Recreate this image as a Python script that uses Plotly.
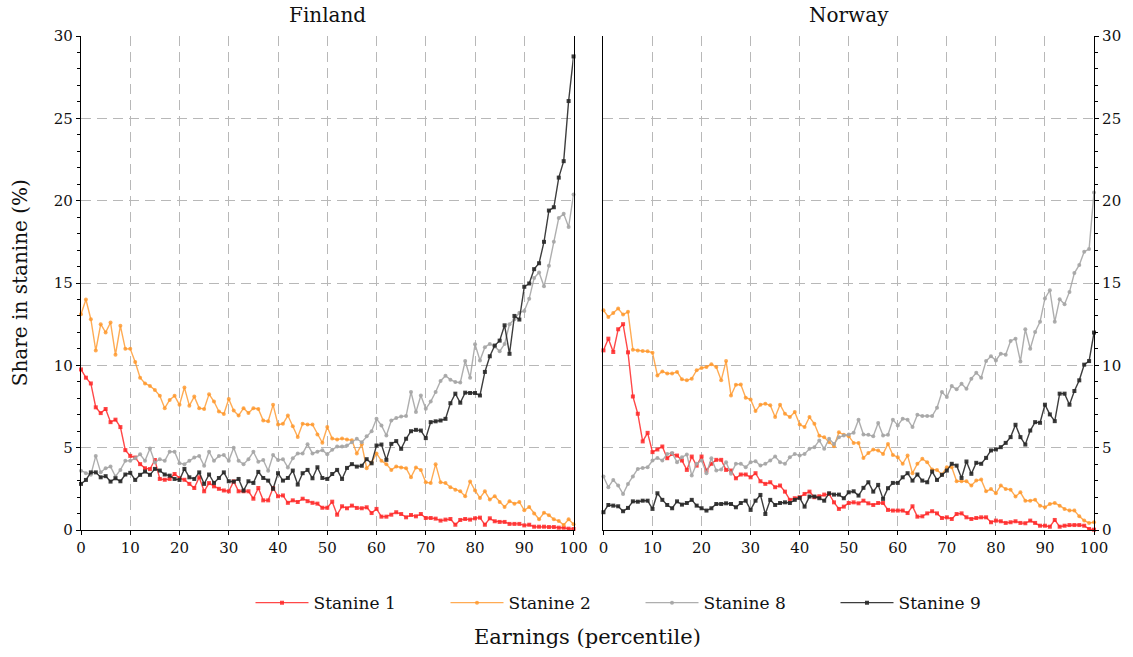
import plotly.graph_objects as go

percentile = list(range(0, 101))

fin_s1 = [9.75,9.25,8.9,7.45,7.1,7.35,6.55,6.7,6.25,4.85,
4.5,4.4,4.0,3.75,3.7,4.25,3.1,3.05,3.1,3.4,
3.15,3.05,2.8,2.55,3.2,2.35,2.85,2.65,2.5,2.4,
2.35,2.95,2.35,2.35,2.35,1.9,2.55,1.8,1.8,2.55,
2.05,2.1,1.65,1.8,1.7,1.9,1.75,1.65,1.6,1.35,
1.35,1.72,0.93,1.44,1.32,1.48,1.34,1.32,1.38,1.03,
1.28,0.81,0.81,0.93,1.08,0.97,0.77,0.91,0.83,0.97,
0.73,0.73,0.69,0.57,0.63,0.67,0.32,0.61,0.67,0.63,
0.71,0.75,0.32,0.71,0.53,0.49,0.49,0.37,0.37,0.37,
0.28,0.32,0.2,0.2,0.2,0.18,0.18,0.14,0.14,0.08,0.06]

fin_s2 = [13.1,14.0,12.8,10.9,12.5,12.0,12.6,10.65,12.4,11.0,
11.0,10.2,9.25,8.9,8.75,8.5,8.15,7.4,7.9,8.15,
7.6,8.65,7.55,8.1,7.4,7.35,8.25,7.8,7.2,7.05,
7.95,7.25,6.95,7.4,7.1,7.4,7.35,6.65,6.6,7.6,
6.4,6.45,6.95,6.3,5.65,6.45,6.4,6.4,5.8,5.3,
6.25,5.55,5.5,5.55,5.5,5.45,4.65,5.2,3.75,4.1,
4.65,4.2,4.0,3.65,3.85,3.8,3.75,3.2,3.8,3.65,
2.9,2.85,4.0,2.9,2.85,2.6,2.45,2.35,2.05,2.95,
2.4,1.95,2.35,1.85,2.05,1.7,1.4,1.75,1.6,1.7,
1.2,1.4,1.0,0.65,1.05,0.9,0.65,0.55,0.3,0.65,0.35]

fin_s8 = [3.6,3.45,3.35,4.5,3.5,3.75,3.85,3.25,3.65,4.2,
4.2,4.35,4.6,4.2,4.95,4.1,4.3,4.2,4.75,4.75,
4.05,4.0,4.2,4.4,4.5,3.9,4.75,4.2,4.5,4.55,
4.2,5.0,4.2,4.0,4.3,4.75,4.15,4.25,3.6,4.55,
4.25,4.3,3.8,4.35,4.65,4.65,5.2,4.65,4.75,4.85,
4.6,4.87,5.07,5.07,5.13,5.33,5.54,5.33,5.7,6.0,
6.75,6.35,5.74,6.65,6.8,6.9,6.92,8.38,7.16,8.17,
7.36,7.8,8.38,9.05,9.37,9.13,8.99,8.95,10.26,9.25,
11.28,10.3,11.1,11.3,11.15,10.85,11.3,12.5,12.8,13.2,
13.3,14.05,15.3,15.64,14.8,16.04,17.5,18.95,19.2,18.4,20.37]

fin_s9 = [2.8,3.04,3.5,3.5,3.2,3.27,2.94,3.14,2.96,3.37,
3.47,3.04,3.35,3.55,3.35,3.71,3.61,3.37,3.3,3.1,
3.04,3.71,3.2,3.1,3.5,2.8,3.37,2.86,3.16,3.5,
2.96,2.94,3.1,2.39,2.96,2.86,3.53,3.16,3.0,2.5,
3.45,3.0,3.16,3.61,2.76,3.45,3.65,3.14,3.81,3.16,
3.1,3.4,3.65,3.1,3.77,4.0,3.85,3.9,4.3,4.05,
5.13,5.19,4.26,5.23,5.4,4.93,5.54,6.0,6.08,6.04,
5.58,6.55,6.6,6.65,6.75,7.7,8.28,7.73,8.34,8.32,
8.32,8.17,9.6,10.55,11.2,11.5,12.43,10.7,13.0,12.78,
14.77,14.97,15.84,16.2,17.5,19.4,19.6,21.4,22.4,26.05,28.76]

nor_s1 = [10.91,11.62,10.81,12.19,12.5,10.79,8.11,7.06,5.38,5.9,
4.73,4.89,5.07,4.36,4.62,4.52,4.22,3.65,4.46,3.91,
4.46,3.61,4.02,4.26,4.26,3.65,3.61,3.14,3.37,3.37,
3.2,3.45,2.96,2.8,2.9,2.6,2.7,2.33,1.83,1.93,
1.99,2.19,2.33,1.99,2.05,2.15,2.19,1.68,1.28,1.42,
1.64,1.68,1.62,1.78,1.62,1.52,1.64,1.64,1.22,1.18,
1.18,1.18,1.03,1.44,0.81,0.83,1.01,1.14,1.01,0.73,
0.77,0.67,0.97,1.01,0.77,0.67,0.73,0.77,0.77,0.47,
0.57,0.53,0.43,0.47,0.53,0.43,0.41,0.57,0.43,0.26,
0.26,0.2,0.61,0.2,0.26,0.3,0.3,0.3,0.26,0.06,0.02]

nor_s2 = [13.35,12.94,13.18,13.45,13.08,13.25,10.95,10.9,10.87,10.85,
10.77,9.39,9.63,9.5,9.5,9.6,9.15,9.09,9.19,9.7,
9.84,9.9,10.06,9.9,9.09,10.26,8.17,8.82,8.84,8.03,
7.93,7.22,7.61,7.67,7.57,6.86,7.61,7.06,6.86,7.16,
6.41,6.25,6.86,6.45,5.72,5.64,5.33,5.09,5.94,5.78,
5.7,5.29,5.29,4.38,4.67,4.89,4.83,4.62,5.23,4.56,
4.42,4.02,4.52,3.45,4.02,4.32,4.12,3.67,3.65,3.37,
3.81,3.81,2.96,2.96,2.96,2.7,3.0,3.06,2.35,2.49,
2.23,2.7,2.49,2.45,2.03,2.29,1.78,1.78,1.83,1.48,
1.38,1.58,1.64,1.48,1.28,1.18,1.18,0.83,0.57,0.43,0.47]

nor_s8 = [3.25,2.6,3.04,2.7,2.19,2.8,3.25,3.71,3.77,3.81,
4.22,4.38,4.22,4.62,4.67,4.12,4.42,4.58,3.31,4.02,
4.22,3.45,4.36,3.61,3.67,4.12,3.41,4.02,4.02,3.81,
4.12,4.18,3.91,4.02,4.22,4.46,4.12,4.02,4.42,4.62,
4.52,4.62,4.93,5.03,5.44,4.93,5.54,5.23,5.64,5.74,
5.8,5.9,6.7,5.8,5.78,5.7,6.5,5.74,5.78,6.7,
6.35,6.75,6.7,6.25,7.0,6.92,6.92,6.92,7.42,8.38,
8.07,8.74,8.54,8.88,8.58,9.19,9.55,9.25,10.26,10.55,
10.3,10.71,10.65,11.48,11.62,10.24,12.19,11.01,12.03,12.64,
14.06,14.56,12.64,14.02,13.71,14.46,15.6,16.1,16.9,17.06,20.5]

nor_s9 = [1.08,1.52,1.48,1.44,1.14,1.34,1.74,1.72,1.78,1.78,
1.28,2.23,1.83,1.52,1.32,1.74,1.54,1.64,1.83,1.48,
1.32,1.18,1.32,1.58,1.58,1.62,1.58,1.38,1.64,1.78,
1.22,1.78,2.13,0.97,1.83,1.52,1.64,1.68,1.64,1.83,
1.95,1.42,2.03,2.03,1.93,1.78,2.23,2.15,2.15,1.93,
2.29,2.35,2.09,2.56,2.9,2.33,2.74,1.89,2.54,2.86,
2.86,3.2,3.45,3.0,3.37,3.0,2.9,3.55,3.04,3.35,
3.61,4.02,3.91,3.16,4.16,3.41,4.08,4.02,4.38,4.83,
4.89,5.03,5.29,5.64,6.39,5.64,5.19,6.04,6.55,6.51,
7.61,7.02,6.61,8.28,8.28,7.61,8.44,9.09,10.04,10.26,11.99]

series_names = ["Stanine 1", "Stanine 2", "Stanine 8", "Stanine 9"]
panel_titles = ["Finland", "Norway"]
colors = ["rgba(255,40,40,0.85)", "rgba(255,150,40,0.8)", "rgba(165,165,165,0.9)", "rgba(40,40,40,0.9)"]
symbols = ["square", "circle", "circle", "square"]

FONT = "DejaVu Serif"

fig = go.Figure()
panels = [("x", "y", [fin_s1, fin_s2, fin_s8, fin_s9]),
          ("x2", "y2", [nor_s1, nor_s2, nor_s8, nor_s9])]
for p, (xa, ya, data) in enumerate(panels):
    for i, (name, vals) in enumerate(zip(series_names, data)):
        fig.add_trace(go.Scatter(
            x=percentile, y=vals, name=name, xaxis=xa, yaxis=ya,
            mode="lines+markers", legendgroup=name, showlegend=(p == 0),
            line=dict(color=colors[i], width=1.4),
            marker=dict(color=colors[i], symbol=symbols[i], size=4, line=dict(width=0)),
            cliponaxis=False,
        ))

grid = dict(showgrid=True, gridcolor="#b8b8b8", gridwidth=1, griddash="10px,6px")
xcommon = dict(range=[0, 100], dtick=10, tick0=0, ticks="outside", ticklen=4, tickcolor="#000",
               showline=True, linecolor="#000", linewidth=1.2, zeroline=False,
               tickfont=dict(family=FONT, size=15, color="#111"), **grid)
ycommon = dict(range=[0, 30], dtick=5, tick0=0, ticks="outside", ticklen=4, tickcolor="#000",
               showline=True, linecolor="#000", linewidth=1.2, mirror=True, zeroline=False,
               minor=dict(dtick=1, ticks="outside", ticklen=3, tickcolor="#000", showgrid=False),
               tickfont=dict(family=FONT, size=15, color="#111"), **grid)

d1 = (575 - 81) / 1016
d2 = (605 - 81) / 1016
fig.update_layout(
    width=1133, height=657,
    margin=dict(l=81, r=36, t=36, b=127),
    plot_bgcolor="white", paper_bgcolor="white",
    font=dict(family=FONT, color="#111"),
    xaxis=dict(domain=[0, d1], anchor="y", **xcommon),
    xaxis2=dict(domain=[d2, 1], anchor="y2", **xcommon),
    yaxis=dict(anchor="x", side="left", **ycommon),
    yaxis2=dict(anchor="x2", side="right", **ycommon),
    legend=dict(orientation="h", x=(251 - 81) / 1016, xanchor="left", y=-0.148, yanchor="middle",
                font=dict(family=FONT, size=17, color="#111"), entrywidth=127,
                itemwidth=53, bgcolor="rgba(0,0,0,0)"),
    annotations=[
        dict(text=panel_titles[0], x=d1 / 2, y=1.0425, xref="paper", yref="paper",
             showarrow=False, font=dict(family=FONT, size=20), xanchor="center", yanchor="middle"),
        dict(text=panel_titles[1], x=(d2 + 1) / 2, y=1.0425, xref="paper", yref="paper",
             showarrow=False, font=dict(family=FONT, size=20), xanchor="center", yanchor="middle"),
        dict(text="Earnings (percentile)", x=0.5, y=-0.2166, xref="paper", yref="paper",
             showarrow=False, font=dict(family=FONT, size=21), xanchor="center", yanchor="middle"),
        dict(text="Share in stanine (%)", x=-0.06, y=0.5, xref="paper", yref="paper",
             showarrow=False, textangle=-90, font=dict(family=FONT, size=20),
             xanchor="center", yanchor="middle"),
    ],
)

fig.write_html("out.html", config={"displayModeBar": False},
               post_script="document.body.style.margin='0';")
